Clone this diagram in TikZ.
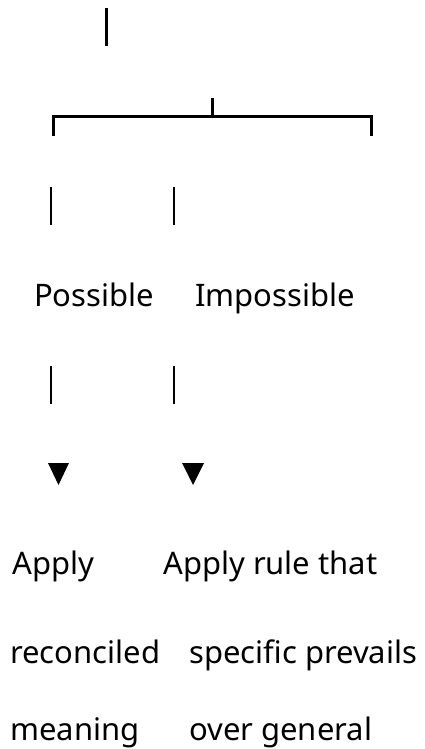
\documentclass[tikz,border=0pt]{standalone}
\usepackage{fontspec}
\setmainfont{Noto Sans}
\usetikzlibrary{positioning}
\definecolor{Ink}{HTML}{000000}
\tikzset{
    label/.style={anchor=base west, inner sep=0pt, text=Ink, font=\fontsize{31}{36}\selectfont},
    bar/.style={draw=Ink, line width=3pt},
    pipe/.style={draw=Ink, line width=2pt},
    tip/.style={fill=Ink},
}
\begin{document}
\begin{tikzpicture}[x=1pt, y=-1pt]
    \useasboundingbox (0,0) rectangle (424,749);

    % Radice
    \coordinate (rootTop) at (106.5,8);
    \coordinate (rootBot) at (106.5,46);
    \draw[bar] (rootTop) -- (rootBot);

    % Parentesi (Ramificazione)
    \coordinate (brUp) at (212,98);
    \coordinate (brMid) at (212,117);
    \coordinate (brL) at (53,117);
    \coordinate (brR) at (371,117);
    \coordinate (brLd) at (53,136);
    \coordinate (brRd) at (371,136);
    \draw[bar] (brUp) -- (brMid);
    \draw[bar] (brLd) -- (brL) -- (brR) -- (brRd);

    % Rami superiori
    \coordinate (pA1) at (51,187);
    \coordinate (pA2) at (51,225);
    \coordinate (pB1) at (174,187);
    \coordinate (pB2) at (174,225);
    \draw[pipe] (pA1) -- (pA2);
    \draw[pipe] (pB1) -- (pB2);

    % Esiti
    \node[label] (possible) at (34,306) {Possible};
    \node[label] (impossible) at (195,306) {Impossible};

    % Rami inferiori
    \coordinate (qA1) at (51,366);
    \coordinate (qA2) at (51,404);
    \coordinate (qB1) at (174,366);
    \coordinate (qB2) at (174,404);
    \draw[pipe] (qA1) -- (qA2);
    \draw[pipe] (qB1) -- (qB2);

    % Frecce
    \fill[tip] (48,463) -- (69,463) -- (58.5,485) -- cycle;
    \fill[tip] (182,463) -- (204,463) -- (193,485) -- cycle;

    % Azioni
    \node[label] (applyA) at (12,574) {Apply};
    \node[label] (reconciled) at (10,663) {reconciled};
    \node[label] (meaning) at (10,740) {meaning};
    \node[label] (applyB) at (163,574) {Apply rule that};
    \node[label] (specific) at (189,663) {specific prevails};
    \node[label] (general) at (189,740) {over general};
\end{tikzpicture}
\end{document}
